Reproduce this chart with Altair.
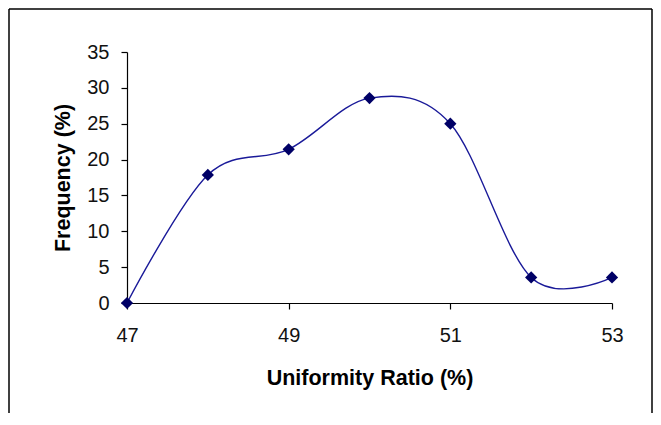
import altair as alt
import pandas as pd

# Data
ratio = [47, 48, 49, 50, 51, 52, 53]
frequency = [0.0, 17.86, 21.43, 28.57, 25.0, 3.57, 3.57]
x_ticks = [47, 49, 51, 53]
y_ticks = [0, 5, 10, 15, 20, 25, 30, 35]

df = pd.DataFrame({"ratio": ratio, "freq": frequency})
FONT = "Liberation Sans"

x_enc = alt.X(
    "ratio:Q",
    scale=alt.Scale(domain=[47, 53], nice=False, zero=False),
    axis=alt.Axis(values=x_ticks, title="Uniformity Ratio (%)", grid=False,
                  tickSize=6, labelPadding=16, labelFlush=False,
                  titleY=75, titleBaseline="middle"),
)
y_enc = alt.Y(
    "freq:Q",
    scale=alt.Scale(domain=[0, 35], nice=False),
    axis=alt.Axis(values=y_ticks, title="Frequency (%)", grid=False,
                  tickSize=6, labelPadding=12, labelFlush=False,
                  titleX=-64, titleBaseline="middle"),
)

line = alt.Chart(df).mark_line(
    interpolate="cardinal", tension=0, color="#1a1a99", strokeWidth=1.4
).encode(x=x_enc, y=y_enc)

pts = alt.Chart(df).mark_point(
    shape="diamond", filled=True, size=150, color="#000066", opacity=1
).encode(x=x_enc, y=y_enc)

one = pd.DataFrame({"a": [0]})
left_b = alt.Chart(one).mark_rule(color="black", strokeWidth=1.5).encode(
    x=alt.value(-118), y=alt.value(-43), y2=alt.value(361))
right_b = alt.Chart(one).mark_rule(color="black", strokeWidth=1.5).encode(
    x=alt.value(525), y=alt.value(-43), y2=alt.value(361))
top_b = alt.Chart(one).mark_rule(color="black", strokeWidth=1.5).encode(
    x=alt.value(-118), x2=alt.value(525), y=alt.value(-43))

chart = alt.layer(line, pts, left_b, right_b, top_b).properties(
    width=485, height=251,
    padding={"left": 119, "top": 44, "right": 41, "bottom": 110},
    autosize=alt.AutoSizeParams(type="none"),
    background="white",
).configure_view(stroke=None).configure_axis(
    domainColor="black", tickColor="black", labelColor="#111111", titleColor="black",
    labelFont=FONT, labelFontSize=20, titleFont=FONT, titleFontSize=21.5,
    titleFontWeight="bold", domainWidth=1.2, tickWidth=1.2,
)

chart.save("out.html", embed_options={"renderer": "svg", "actions": False})
